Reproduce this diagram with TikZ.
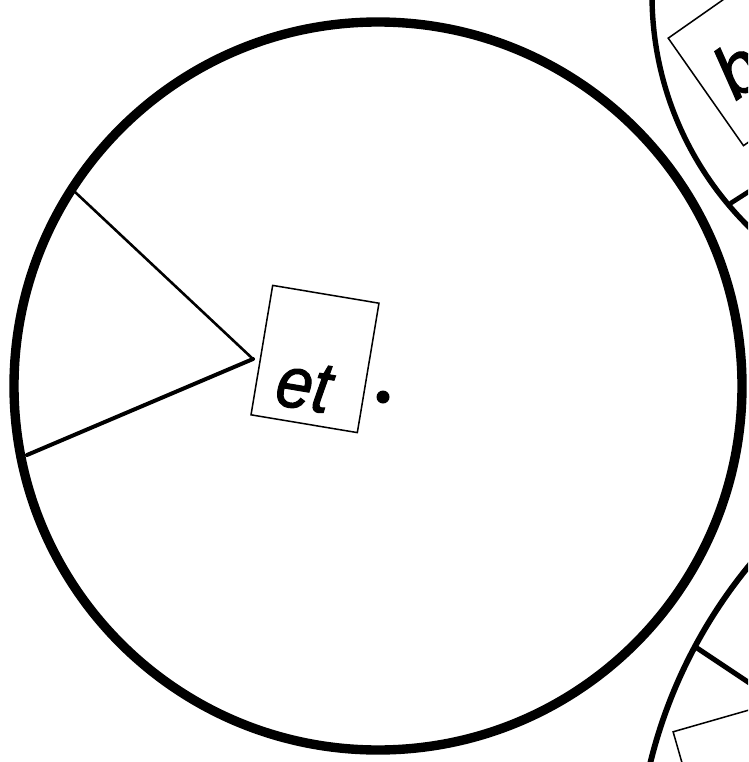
\documentclass[tikz,border=0pt]{standalone}
\usepackage{fontspec}
\newfontfamily\handfont[FakeBold=1.5]{Liberation Sans}
\usepackage{tikz}
\usetikzlibrary{calc}

\begin{document}
\begin{tikzpicture}[
  x=0.03cm, y=-0.03cm,
  rim/.style={draw, line width=8pt},
  smallrim/.style={draw, line width=4.6pt},
  card/.style={draw, line width=1.3pt, rectangle, inner sep=0pt, minimum width=92pt, minimum height=112pt},
  spoke/.style={line width=2.2pt, line cap=round},
  word/.style={font=\handfont\itshape\fontsize{62}{62}\selectfont, inner sep=0pt}
]
\useasboundingbox (0,0) rectangle (748,762);
\clip (0,0) rectangle (748,762);

% main disc
\coordinate (hub) at (378,386);
\draw[rim] (hub) circle [radius=364];
\coordinate (apex) at (253,359);
\coordinate (rimup) at (75,192);
\coordinate (rimdown) at (27,455);
\draw[spoke] (rimup) -- (apex);
\draw[spoke, line width=3.4pt] (apex) -- (rimdown);
\node[card, rotate=-9.5] (etbox) at (315,359) {};
\node[word, rotate=-9.5, xscale=0.9] (etword) at (304,386) {et};
\fill (383,397) circle [radius=6.5];

% disc top right
\coordinate (hubtr) at (978,-5);
\draw[smallrim] (hubtr) circle [radius=326];
\coordinate (spoketr) at (731,203);
\draw[spoke, line width=4pt] (spoketr) -- ++(25,-16);
\node[card, rotate=35] (bbox) at (750,61) {};
\node[word, rotate=35, anchor=north west] (bword) at (705,58) {b};

% disc bottom right
\coordinate (hubbr) at (1135,882);
\draw[smallrim, line width=5pt] (hubbr) circle [radius=499];
\coordinate (spokebr) at (697,648);
\draw[spoke, line width=4.3pt] (spokebr) -- ++(60,40);
\node[card, rotate=16] (brbox) at (743,780) {};
\end{tikzpicture}
\end{document}
